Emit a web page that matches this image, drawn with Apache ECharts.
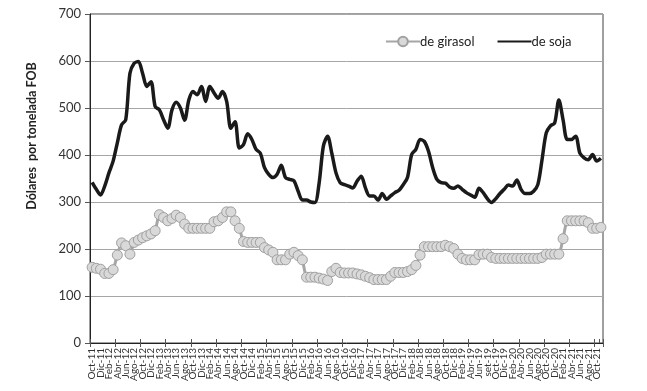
<!DOCTYPE html>
<html>
<head>
<meta charset="utf-8">
<script src="https://cdn.jsdelivr.net/npm/echarts@6/dist/echarts.min.js"></script>
<style>
html,body{margin:0;padding:0;background:#fff;}
#c{width:647px;height:391px;}
</style>
</head>
<body>
<div id="c"></div>
<script>
var categories = [
'Oct-11','Nov-11','Dic-11',
'Ene-12','Feb-12','Mar-12','Abr-12','May-12','Jun-12','Jul-12','Ago-12','Sep-12','Oct-12','Nov-12','Dic-12',
'Ene-13','Feb-13','Mar-13','Abr-13','May-13','Jun-13','Jul-13','Ago-13','Sep-13','Oct-13','Nov-13','Dic-13',
'Ene-14','Feb-14','Mar-14','Abr-14','May-14','Jun-14','Jul-14','Ago-14','Sep-14','Oct-14','Nov-14','Dic-14',
'Ene-15','Feb-15','Mar-15','Abr-15','May-15','Jun-15','Jul-15','Ago-15','Sep-15','Oct-15','Nov-15','Dic-15',
'Ene-16','Feb-16','Mar-16','Abr-16','May-16','Jun-16','Jul-16','Ago-16','Sep-16','Oct-16','Nov-16','Dic-16',
'Ene-17','Feb-17','Mar-17','Abr-17','May-17','Jun-17','Jul-17','Ago-17','Sep-17','Oct-17','Nov-17','Dic-17',
'Ene-18','Feb-18','Mar-18','Abr-18','May-18','Jun-18','Jul-18','Ago-18','Sep-18','Oct-18','Nov-18','Dic-18',
'Ene-19','Feb-19','Mar-19','Abr-19','May-19','Jun-19','Jul-19','set-19','Sep-19','Oct-19','Nov-19','Dic-19',
'Ene-20','Feb-20','Mar-20','Abr-20','May-20','Jun-20','Jul-20','Ago-20','Sep-20','Oct-20','Nov-20','Dic-20',
'Ene-21','Feb-21','Mar-21','Abr-21','May-21','Jun-21','Jul-21','Ago-21','Sep-21','Oct-21','Nov-21'
];

var girasol = [
161,159,157,148,148,156,187,213,207,189,214,219,224,228,232,239,273,267,260,265,
272,267,253,244,244,244,244,244,244,258,260,267,279,279,260,244,216,214,214,214,
214,203,198,193,177,177,177,189,193,186,177,140,140,140,138,136,133,152,159,150,
149,149,149,147,145,142,139,135,135,135,135,142,150,150,150,152,156,165,187,205,
205,205,205,205,208,205,201,189,180,177,177,177,188,189,189,182,180,180,180,180,
180,180,180,180,180,180,180,182,189,189,189,189,222,260,260,260,260,260,256,244,
244,246
];

var soja = [
342,327,315,334,362,387,426,464,475,574,595,599,574,546,556,503,496,475,457,496,
512,500,474,517,535,528,546,514,546,532,521,535,514,457,471,415,422,445,433,412,
404,373,359,352,359,378,352,348,345,323,304,304,300,299,341,419,440,404,362,341,
337,334,330,344,355,330,313,313,304,318,306,313,320,325,337,352,401,412,433,429,
408,373,348,341,340,332,329,334,327,320,315,310,329,320,307,299,307,318,327,336,
334,347,327,318,318,323,337,390,447,462,468,517,475,433,433,440,404,394,390,401,
387,393
];

var yTicks = [0,100,200,300,400,500,600,700];
var seriesNames = ['de girasol','de soja'];
var yTitle = 'Dólares  por tonelada FOB';

var chart = echarts.init(document.getElementById('c'), null, {renderer:'canvas'});
var FONT = 'Lato, "Open Sans", sans-serif';
chart.setOption({
  animation:false,
  backgroundColor:'#fff',
  grid:{left:90,right:44,top:14,bottom:48,show:true,borderColor:'#404040',borderWidth:1},
  legend:{
    data:[{name:seriesNames[0]},{name:seriesNames[1],itemStyle:{opacity:0}}],
    left:380, top:30,
    itemWidth:34, itemHeight:12, itemGap:22,
    textStyle:{fontFamily:FONT,fontSize:13,color:'#222',padding:[0,0,0,-5]}
  },
  xAxis:[{
    type:'category',
    data:categories,
    boundaryGap:true,
    axisLine:{lineStyle:{color:'#222',width:1}},
    axisTick:{show:true,interval:5,length:4,inside:true,lineStyle:{color:'#555'}},
    axisLabel:{interval:0,rotate:90,
      formatter:function(v,i){return i%2===0 ? v : '';},
      fontFamily:FONT,fontSize:10,lineHeight:7,color:'#333',margin:5}
  },{
    type:'category',
    data:categories,
    position:'bottom',
    boundaryGap:true,
    axisLine:{show:false},
    axisTick:{show:true,interval:5,length:4,inside:false,lineStyle:{color:'#555'}},
    axisLabel:{show:false},
    splitLine:{show:false}
  }],
  yAxis:{
    type:'value',
    min:yTicks[0], max:yTicks[yTicks.length-1], interval:100,
    axisLine:{show:true,lineStyle:{color:'#222',width:1}},
    axisTick:{show:true,length:5,lineStyle:{color:'#555'}},
    axisLabel:{fontFamily:FONT,fontSize:13,color:'#333',margin:9},
    splitLine:{lineStyle:{color:'#a6a6a6',width:1}}
  },
  graphic:[{
    type:'text', x:32, y:136, rotation:Math.PI/2,
    style:{text:yTitle, fontFamily:FONT, fontSize:12.5, fontWeight:'bold', fill:'#222', textAlign:'center', textVerticalAlign:'middle'}
  }],
  series:[
    {
      name:seriesNames[0], type:'line', data:girasol, smooth:0.2,
      symbol:'circle', symbolSize:10, showAllSymbol:true,
      lineStyle:{color:'#a6a6a6',width:3},
      itemStyle:{color:'#d9d9d9',borderColor:'#a0a0a0',borderWidth:1}
    },
    {
      name:seriesNames[1], type:'line', data:soja, smooth:0.3,
      symbol:'none', showSymbol:false,
      lineStyle:{color:'#1a1a1a',width:3.5},
      itemStyle:{color:'#1a1a1a'}
    }
  ]
});
</script>
</body>
</html>
